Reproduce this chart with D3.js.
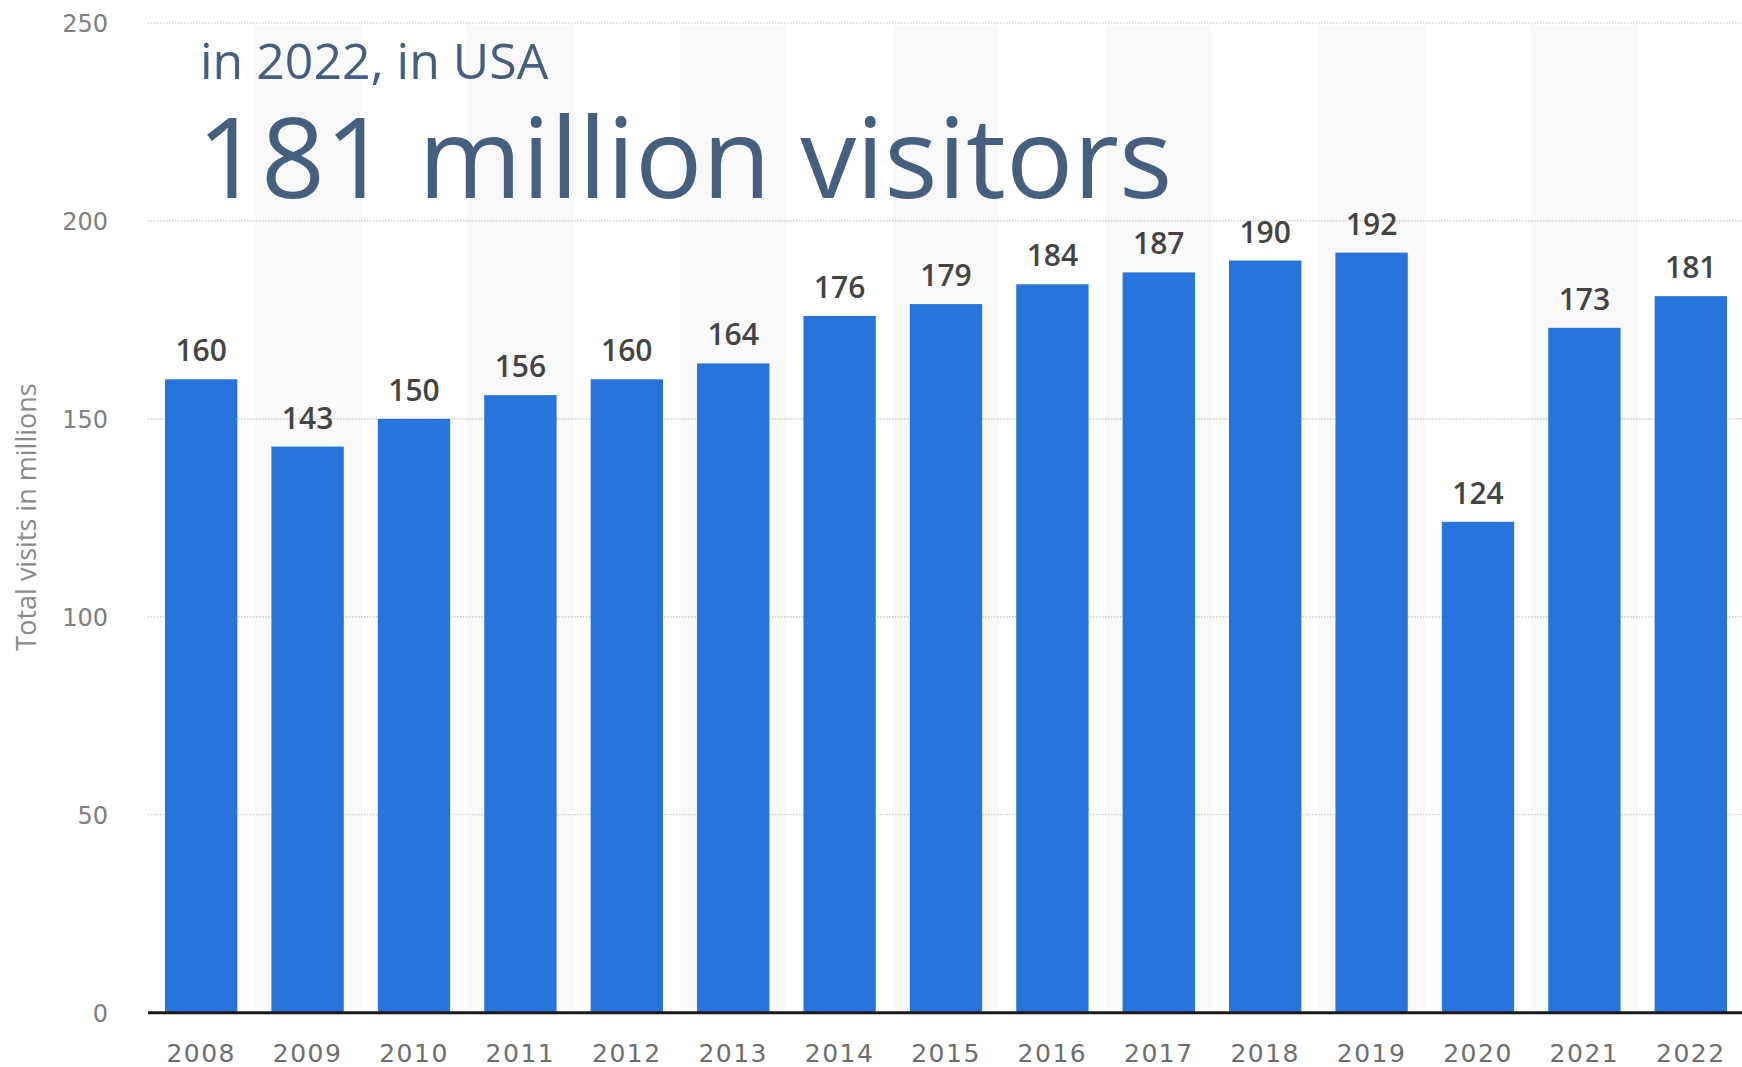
<!DOCTYPE html>
<html>
<head>
<meta charset="utf-8">
<script src="https://cdn.jsdelivr.net/npm/d3@7"></script>
<style>
  html, body { margin: 0; padding: 0; background: #fff; }
  svg { display: block; }
</style>
</head>
<body>
<svg id="chart" width="1742" height="1067"></svg>
<script>
// Annual visits (millions)
const years = ["2008","2009","2010","2011","2012","2013","2014","2015","2016","2017","2018","2019","2020","2021","2022"];
const visits = [160, 143, 150, 156, 160, 164, 176, 179, 184, 187, 190, 192, 124, 173, 181];
const yTicks = [0, 50, 100, 150, 200, 250];
const headline = "181 million visitors";
const subline = "in 2022, in USA";
const yTitle = "Total visits in millions";

const W = 1742, H = 1067;
const plotLeft = 148, plotRight = 1744, plotTop = 23, plotBottom = 1012.7;

const svg = d3.select("#chart");

const x = d3.scaleBand()
  .domain(years)
  .range([plotLeft, plotRight])
  .paddingInner(0.32)
  .paddingOuter(0.16);

const y = d3.scaleLinear()
  .domain([0, 250])
  .range([plotBottom, plotTop]);

const step = x.step();
const outer = step * 0.16;

// alternating column shading
svg.append("g")
  .selectAll("rect")
  .data(years.filter((d, i) => i % 2 === 1))
  .join("rect")
  .attr("x", d => x(d) - outer)
  .attr("y", y(250) + 2)
  .attr("width", step)
  .attr("height", plotBottom - y(250) - 2)
  .attr("fill", "#f9f9f9");

// dotted gridlines
svg.append("g")
  .selectAll("line")
  .data(yTicks.filter(t => t > 0))
  .join("line")
  .attr("x1", plotLeft)
  .attr("x2", W)
  .attr("y1", d => y(d))
  .attr("y2", d => y(d))
  .attr("stroke", "#c2c2c2")
  .attr("stroke-width", 1.2)
  .attr("stroke-dasharray", "1.5,1.5");

// y-axis tick labels
const yAxis = d3.axisLeft(y).tickValues(yTicks).tickSize(0).tickPadding(0);
const gy = svg.append("g")
  .attr("transform", `translate(108,0)`)
  .call(yAxis);
gy.select(".domain").remove();
gy.selectAll("text")
  .attr("font-family", "'DejaVu Sans', sans-serif")
  .attr("font-size", 24)
  .attr("fill", "#808080")
  .attr("dy", "0.36em");

// y-axis title
svg.append("text")
  .attr("transform", `translate(36,517) rotate(-90)`)
  .attr("text-anchor", "middle")
  .attr("font-family", "'Open Sans', sans-serif")
  .attr("font-size", 27)
  .attr("fill", "#8a8a8a")
  .text(yTitle);

// headline text
svg.append("text")
  .attr("x", 200)
  .attr("y", 79.3)
  .attr("font-family", "'Open Sans', sans-serif")
  .attr("font-size", 50)
  .attr("fill", "#465f7e")
  .text(subline);

svg.append("text")
  .attr("x", 197)
  .attr("y", 198.3)
  .attr("font-family", "'Open Sans', sans-serif")
  .attr("font-size", 112)
  .attr("fill", "#465f7e")
  .text(headline);

// bars
svg.append("g")
  .selectAll("rect")
  .data(years)
  .join("rect")
  .attr("x", d => x(d))
  .attr("y", (d, i) => y(visits[i]))
  .attr("width", x.bandwidth())
  .attr("height", (d, i) => plotBottom - y(visits[i]))
  .attr("fill", "#2775da");

// value labels
svg.append("g")
  .selectAll("text")
  .data(years)
  .join("text")
  .attr("x", d => x(d) + x.bandwidth() / 2)
  .attr("y", (d, i) => y(visits[i]) - 18)
  .attr("text-anchor", "middle")
  .attr("font-family", "'Open Sans', sans-serif")
  .attr("font-weight", 600)
  .attr("font-size", 30)
  .attr("fill", "#444")
  .text((d, i) => visits[i]);

// baseline
svg.append("line")
  .attr("x1", plotLeft)
  .attr("x2", W)
  .attr("y1", plotBottom)
  .attr("y2", plotBottom)
  .attr("stroke", "#1a1a1a")
  .attr("stroke-width", 3);

// x-axis labels
const xAxis = d3.axisBottom(x).tickSize(0).tickPadding(0);
const gx = svg.append("g")
  .attr("transform", `translate(0,1062)`)
  .call(xAxis);
gx.select(".domain").remove();
gx.selectAll("text")
  .attr("font-family", "'DejaVu Sans', sans-serif")
  .attr("font-size", 25)
  .attr("letter-spacing", 1.5)
  .attr("fill", "#6e6e6e")
  .attr("dy", 0);
</script>
</body>
</html>
